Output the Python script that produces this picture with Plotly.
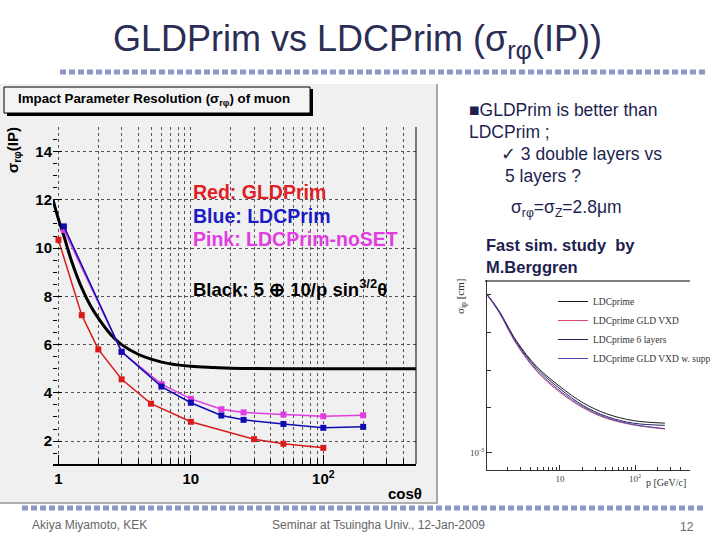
import plotly.graph_objects as go

# ---------------- data ----------------
p_red = [1, 1.5, 2, 3, 5, 10, 30, 50, 100]
sig_red = [10.34, 7.22, 5.8, 4.56, 3.55, 2.8, 2.08, 1.89, 1.72]
err_red = [0.15, 0, 0, 0, 0, 0, 0, 0, 0]

p_blue = [1.1, 3, 6, 10, 17, 25, 50, 100, 200]
sig_blue = [10.9, 5.7, 4.26, 3.59, 3.06, 2.88, 2.71, 2.55, 2.59]

p_pink = [1.1, 3, 6, 10, 17, 25, 50, 100, 200]
sig_pink = [10.75, 5.7, 4.36, 3.75, 3.32, 3.19, 3.10, 3.03, 3.07]

p_black = [0.91, 1, 1.1, 1.25, 1.5, 1.75, 2, 2.5, 3, 4, 5, 7, 10, 15, 20, 30, 50, 100, 200, 500]
sig_black = [12.0, 11.2, 10.5, 9.5, 8.35, 7.6, 7.1, 6.4, 6.0, 5.6, 5.4, 5.2, 5.1, 5.05,
             5.02, 5.01, 5.0, 5.0, 5.0, 5.0]

x_tickvals = [1, 10, 100]
x_ticktext = ["1", "10", "10<sup>2</sup>"]
x_minor = [2, 3, 4, 5, 6, 7, 8, 9, 20, 30, 40, 50, 60, 70, 80, 90, 200, 300, 400]
y_tickvals = [2, 4, 6, 8, 10, 12, 14]

# inset (M.Berggren fast sim)
p_in = [1.05, 1.5, 2.65, 4.9, 10, 20.5, 42, 95, 250]
in_names = ["LDCprime", "LDCprime GLD VXD", "LDCprime 6 layers", "LDCprime GLD VXD w. supp"]
in_ldc = [0.0106, 0.0084, 0.00522, 0.00359, 0.00267, 0.00209, 0.00178, 0.00161, 0.00155]
in_gld = [0.0105, 0.0082, 0.00498, 0.00335, 0.00245, 0.00194, 0.00166, 0.00151, 0.00142]
in_6l = [0.0106, 0.0083, 0.00515, 0.00350, 0.00258, 0.00201, 0.00171, 0.00155, 0.00150]
in_sup = [0.0106, 0.0083, 0.00505, 0.00340, 0.00250, 0.00197, 0.00168, 0.00152, 0.00143]
in_x_tickvals = [10, 100]
in_x_ticktext = ["10", "10<sup>2</sup>"]
in_x_minor = [2, 3, 4, 5, 6, 7, 8, 9, 20, 30, 40, 50, 60, 70, 80, 90, 200, 300, 400]
in_y_tickvals = [0.001]
in_y_ticktext = ["10<sup>-3</sup>"]
in_y_minor = [0.00195, 0.0034, 0.006, 0.0105]

# ---------------- helpers ----------------
W, H = 720, 540
def px(x):
    return x / W
def py(y):
    return 1 - y / H

SANS = "Liberation Sans, Arial, sans-serif"
SERIF = "Liberation Serif, Times New Roman, serif"
NAVY = "#1e1f4f"
SEP = "#8e98c8"

fig = go.Figure()

# main chart traces
fig.add_trace(go.Scatter(x=p_black, y=sig_black, mode="lines", line=dict(color="black", width=3, shape="spline"),
                         showlegend=False, xaxis="x", yaxis="y"))
fig.add_trace(go.Scatter(x=p_pink, y=sig_pink, mode="lines+markers", line=dict(color="#e03ce0", width=1.5),
                         marker=dict(symbol="square", size=6, color="#e03ce0"), showlegend=False))
fig.add_trace(go.Scatter(x=p_blue, y=sig_blue, mode="lines+markers", line=dict(color="#0c0cb0", width=1.5),
                         marker=dict(symbol="square", size=6, color="#0c0cb0"), showlegend=False))
fig.add_trace(go.Scatter(x=p_red, y=sig_red, mode="lines+markers", line=dict(color="#d81c1c", width=1.5),
                         marker=dict(symbol="square", size=6, color="#d81c1c"),
                         error_y=dict(type="data", array=err_red, color="#d81c1c", width=0, thickness=1.5),
                         showlegend=False))

# inset traces
in_cols = ["#1a1a1a", "#d84a6a", "#22225e", "#4a44b0"]
for name, ys, col in zip(in_names, [in_ldc, in_gld, in_6l, in_sup], in_cols):
    fig.add_trace(go.Scatter(x=p_in, y=ys, mode="lines", name=name,
                             line=dict(color=col, width=1, shape="spline"),
                             xaxis="x2", yaxis="y2"))

# ---------------- axes ----------------
fig.update_layout(
    width=W, height=H, margin=dict(l=0, r=0, t=0, b=0),
    paper_bgcolor="white", plot_bgcolor="rgba(0,0,0,0)",
    xaxis=dict(domain=[px(53), px(416)], type="log", range=[-0.041, 2.70],
               tickvals=x_tickvals, ticktext=x_ticktext,
               tickfont=dict(family=SANS, size=15, color="black", weight="bold"),
               ticks="inside", ticklen=9, tickcolor="black", tickwidth=1,
               showline=True, linecolor="black", linewidth=2,
               showgrid=True, gridcolor="#555", griddash="dot", gridwidth=1,
               minor=dict(tickvals=x_minor, ticks="inside", ticklen=5, tickcolor="black",
                          showgrid=True, gridcolor="#555", griddash="dot", gridwidth=1),
               zeroline=False, anchor="y"),
    yaxis=dict(domain=[py(464), py(127)], range=[1.05, 15.02],
               tickvals=y_tickvals,
               tickfont=dict(family=SANS, size=15, color="black", weight="bold"),
               ticks="inside", ticklen=9, tickcolor="black", tickwidth=1,
               showline=False, showgrid=True, gridcolor="#555", griddash="dot", gridwidth=1,
               minor=dict(dtick=0.5, ticks="inside", ticklen=4, tickcolor="black", showgrid=False),
               zeroline=False, anchor="x"),
    xaxis2=dict(domain=[px(487), px(690)], type="log", range=[0.027, 2.733],
                tickvals=in_x_tickvals, ticktext=in_x_ticktext,
                tickfont=dict(family=SERIF, size=9, color="#444"),
                ticks="inside", ticklen=5, tickcolor="#333",
                showline=True, linecolor="#333", linewidth=1, showgrid=False,
                minor=dict(tickvals=in_x_minor, ticks="inside", ticklen=3, tickcolor="#333"),
                zeroline=False, anchor="y2"),
    yaxis2=dict(domain=[py(470), py(280)], type="log", range=[-3.112, -1.886],
                tickvals=in_y_tickvals, ticktext=in_y_ticktext,
                tickfont=dict(family=SERIF, size=9, color="#444"),
                ticks="inside", ticklen=5, tickcolor="#333",
                showline=True, linecolor="#333", linewidth=1, showgrid=False,
                minor=dict(tickvals=in_y_minor, ticks="inside", ticklen=4, tickcolor="#333"),
                zeroline=False, anchor="x2"),
    legend=dict(x=px(553), y=py(287), xanchor="left", yanchor="top",
                font=dict(family=SERIF, size=9.5, color="#333"),
                bgcolor="rgba(0,0,0,0)", borderwidth=0, tracegroupgap=0, itemwidth=30),
    showlegend=True,
)

# ---------------- shapes ----------------
shapes = []
# ROOT canvas panel
shapes.append(dict(type="rect", xref="paper", yref="paper", x0=px(0), x1=px(437), y0=py(503), y1=py(84),
                   fillcolor="#f0f0f0", line=dict(width=0), layer="below"))
shapes.append(dict(type="line", xref="paper", yref="paper", x0=px(437), x1=px(437), y0=py(503), y1=py(84),
                   line=dict(color="#a8a8a8", width=2), layer="below"))
shapes.append(dict(type="line", xref="paper", yref="paper", x0=px(0), x1=px(438), y0=py(503), y1=py(503),
                   line=dict(color="#b0b0b0", width=2), layer="below"))
# plot frame (right black)
shapes.append(dict(type="line", xref="paper", yref="paper", x0=px(416), x1=px(416), y0=py(127), y1=py(464),
                   line=dict(color="black", width=1)))
# title box with shadow
shapes.append(dict(type="rect", xref="paper", yref="paper", x0=px(7), x1=px(313), y0=py(116), y1=py(89),
                   fillcolor="black", line=dict(width=0)))
shapes.append(dict(type="rect", xref="paper", yref="paper", x0=px(4), x1=px(310), y0=py(113), y1=py(87),
                   fillcolor="#f4f4f4", line=dict(color="black", width=1)))
# top edge of inset picture
shapes.append(dict(type="line", xref="paper", yref="paper", x0=px(485), x1=px(690), y0=py(281), y1=py(281),
                   line=dict(color="black", width=1)))
# slide separators
shapes.append(dict(type="line", xref="paper", yref="paper", x0=px(60), x1=px(706), y0=py(72), y1=py(72),
                   line=dict(color=SEP, width=5, dash="6px,3px")))
shapes.append(dict(type="line", xref="paper", yref="paper", x0=px(22), x1=px(706), y0=py(508), y1=py(508),
                   line=dict(color=SEP, width=5, dash="6px,3px")))
fig.update_layout(shapes=shapes)

# ---------------- annotations ----------------
ann = []
def text(x, y, s, size, color=NAVY, family=SANS, xanchor="left", weight="normal", angle=0, yanchor="middle"):
    ann.append(dict(x=px(x), y=py(y), xref="paper", yref="paper", text=s, showarrow=False,
                    xanchor=xanchor, yanchor=yanchor, textangle=angle,
                    font=dict(family=family, size=size, color=color, weight=weight)))

text(357, 41, "GLDPrim vs LDCPrim (σ<sub>rφ</sub>(IP))", 36, color="#2b2d55", xanchor="center")
text(16, 99, "Impact Parameter Resolution (σ<sub>rφ</sub>) of muon", 13.3, color="black", weight="bold")
text(13, 150, "σ<sub>rφ</sub>(IP)", 15, color="black", weight="bold", xanchor="center", angle=-90)
text(405, 493, "cosθ", 15, color="black", weight="bold", xanchor="center")
text(191, 192, "Red: GLDPrim", 19.5, color="#e01e26", weight="bold")
text(191, 216, "Blue: LDCPrim", 19.5, color="#1c1cc4", weight="bold")
text(191, 239, "Pink: LDCPrim-noSET", 19.5, color="#e03ee0", weight="bold")
text(191, 288, "Black: 5 ⊕ 10/p sin<sup>3/2</sup>θ", 18.5, color="black", weight="bold")

text(467, 110, "■GLDPrim is better than", 17.5)
text(467, 132, "LDCPrim ;", 17.5)
text(499, 154, "✓ 3 double layers vs", 17.5)
text(503, 176, "5 layers ?", 17.5)
text(509, 208, "σ<sub>rφ</sub>=σ<sub>Z</sub>=2.8μm", 17.5)
text(484, 245, "Fast sim. study  by", 16.5, weight="bold")
text(484, 267, "M.Berggren", 16.5, weight="bold")

text(461, 296, "σ<sub>ip</sub> [cm]", 11, color="#333", family=SERIF, xanchor="center", angle=-90)
text(688, 482, "p [GeV/c]", 10, color="#333", family=SERIF, xanchor="right")

text(30, 525, "Akiya Miyamoto, KEK", 12, color="#666")
text(270, 525, "Seminar at Tsuingha Univ., 12-Jan-2009", 12, color="#666")
text(678, 527, "12", 12, color="#666")
fig.update_layout(annotations=ann)

fig.write_html("out.html")
